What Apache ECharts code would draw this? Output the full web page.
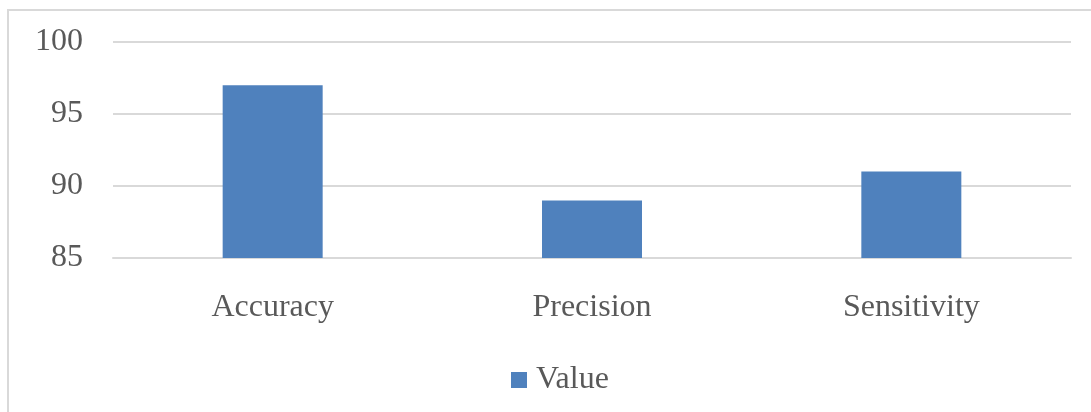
<!DOCTYPE html>
<html>
<head>
<meta charset="utf-8">
<script src="https://cdn.jsdelivr.net/npm/echarts@6/dist/echarts.min.js"></script>
<style>html,body{margin:0;padding:0;background:#fff}#c{width:1091px;height:412px}</style>
</head>
<body>
<div id="c"></div>
<script>
const categories = ["Accuracy", "Precision", "Sensitivity"];
const values = [97, 89, 91];
const seriesName = "Value";
const yTicks = [85, 90, 95, 100];

const chart = echarts.init(document.getElementById('c'), null, {renderer: 'canvas'});
const font = '"Liberation Serif", "Times New Roman", serif';
chart.setOption({
  animation: false,
  backgroundColor: '#ffffff',
  graphic: [{
    type: 'rect', silent: true,
    shape: {x: 8, y: 10, width: 1200, height: 500},
    style: {fill: 'none', stroke: '#D9D9D9', lineWidth: 2}
  }],
  grid: {left: 113, right: 20, top: 42, bottom: 154},
  legend: {
    data: [seriesName], left: 511, top: 364, padding: 0,
    icon: 'rect', itemWidth: 16, itemHeight: 16, itemGap: 10,
    textStyle: {fontFamily: font, fontSize: 32, color: '#595959', padding: [4, 0, 0, 4]}
  },
  xAxis: {
    type: 'category', data: categories,
    axisLine: {show: true, lineStyle: {color: '#D9D9D9', width: 2}},
    axisTick: {show: false},
    axisLabel: {fontFamily: font, fontSize: 32, color: '#595959', margin: 34}
  },
  yAxis: {
    type: 'value', min: yTicks[0], max: yTicks[yTicks.length - 1], interval: 5,
    axisLine: {show: false}, axisTick: {show: false},
    splitLine: {lineStyle: {color: '#D9D9D9', width: 2}},
    axisLabel: {fontFamily: font, fontSize: 32, color: '#595959', margin: 30, padding: [4, 0, 0, 0]}
  },
  series: [{
    name: seriesName, type: 'bar', data: values, barWidth: 100,
    itemStyle: {color: '#4F81BD'}
  }]
});
</script>
</body>
</html>
